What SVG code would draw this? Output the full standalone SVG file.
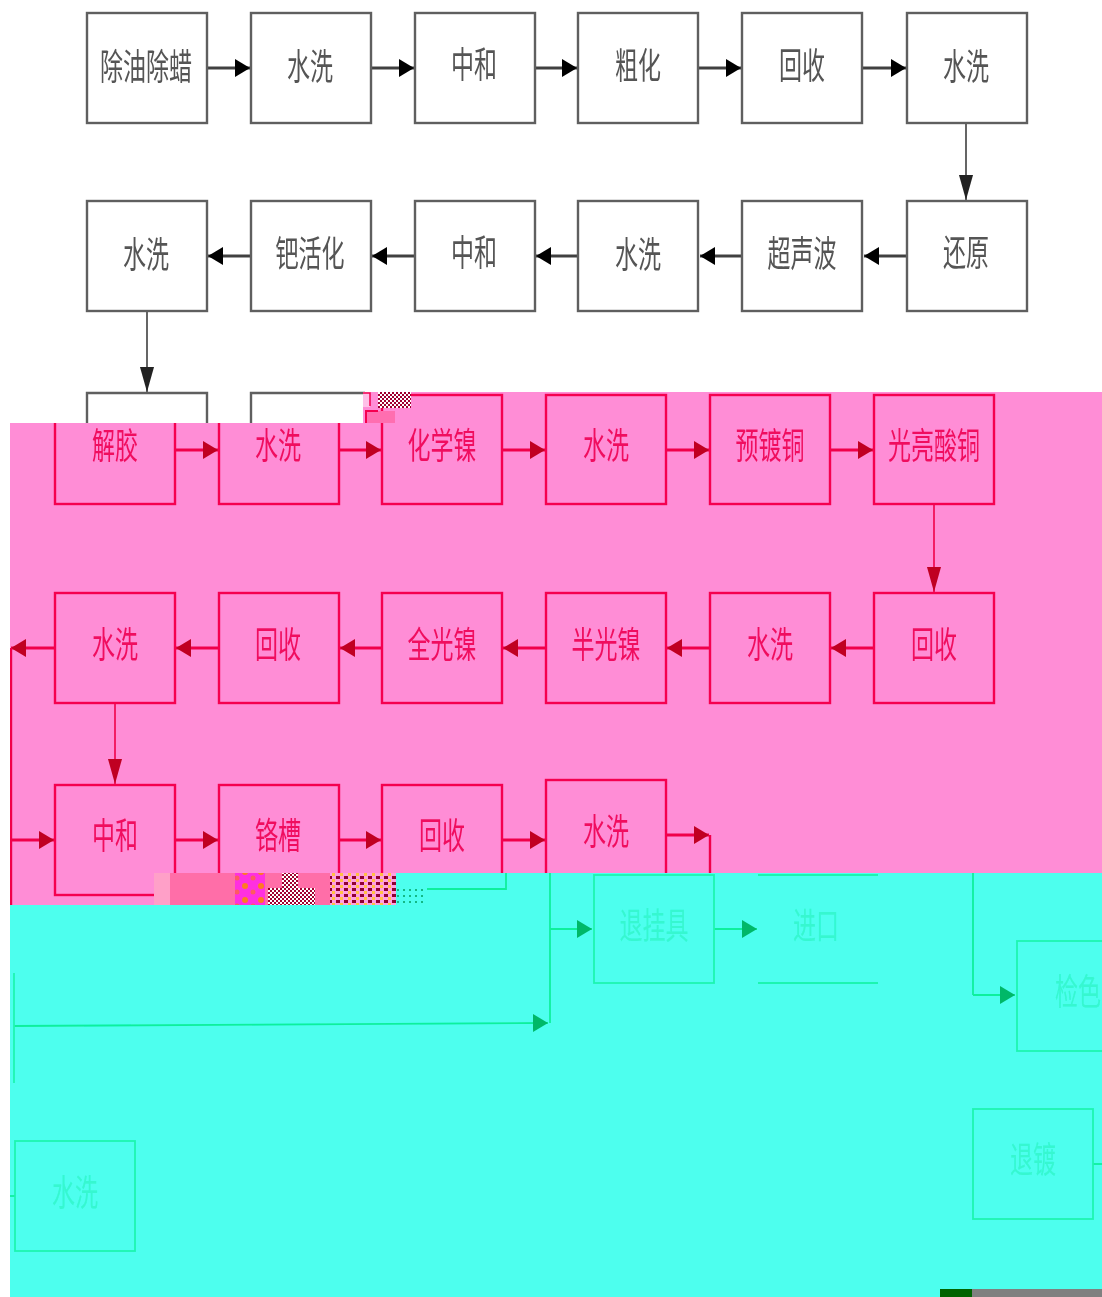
<svg xmlns="http://www.w3.org/2000/svg" width="1102" height="1297" viewBox="0 0 1102 1297">
<style>
.t{font-family:"Noto Sans CJK SC","Noto Sans CJK TC",sans-serif;font-size:23px;text-anchor:middle}
.k rect{fill:#fff;stroke:#5e5e5e;stroke-width:2.4}
.k text{fill:#555}
.k path{fill:none;stroke:#5e5e5e;stroke-width:2.4}
.kc path{fill:none;stroke:#404040;stroke-width:3;marker-end:url(#ak)}
.kc path.v{stroke-width:1.6;marker-end:url(#akv)}
.r rect{fill:none;stroke:#f5004f;stroke-width:2.4}
.r text{fill:#f0105f}
.rc path{fill:none;stroke:#f0004a;stroke-width:3;marker-end:url(#ar)}
.rc path.v{stroke-width:1.6;marker-end:url(#arv)}
.rc path.n{marker-end:none;stroke-width:2.4}
.g rect{fill:none;stroke:#1cf5b0;stroke-width:1.8}
.g text{fill:#14eda8;opacity:.42}
.g path{fill:none;stroke:#1cf5b0;stroke-width:1.8}
.gc path{fill:none;stroke:#0cf09c;stroke-width:1.8;marker-end:url(#ag)}
.gc path.n{marker-end:none}
</style>
<defs>
<marker id="ak" markerUnits="userSpaceOnUse" markerWidth="16" markerHeight="20" refX="15" refY="9" orient="auto"><path d="M0 0L15 9L0 18Z" fill="#000"/></marker>
<marker id="akv" markerUnits="userSpaceOnUse" markerWidth="26" markerHeight="16" refX="25" refY="7" orient="auto"><path d="M0 0L25 7L0 14Z" fill="#222"/></marker>
<marker id="ar" markerUnits="userSpaceOnUse" markerWidth="16" markerHeight="20" refX="15" refY="9" orient="auto"><path d="M0 0L15 9L0 18Z" fill="#c00020"/></marker>
<marker id="arv" markerUnits="userSpaceOnUse" markerWidth="26" markerHeight="16" refX="25" refY="7" orient="auto"><path d="M0 0L25 7L0 14Z" fill="#c00020"/></marker>
<marker id="ag" markerUnits="userSpaceOnUse" markerWidth="16" markerHeight="20" refX="15" refY="9" orient="auto"><path d="M0 0L15 9L0 18Z" fill="#00b868"/></marker>
<clipPath id="cp"><path d="M10 423H363V392H1102V905H10Z"/></clipPath>
<clipPath id="cg"><path d="M10 905H396V873H1102V1297H10Z"/></clipPath>
<filter id="b" x="-2%" y="-2%" width="104%" height="104%"><feGaussianBlur stdDeviation="0.5"/></filter>
<pattern id="p1" width="4" height="4" patternUnits="userSpaceOnUse"><rect width="4" height="4" fill="#fff"/><rect width="2" height="2" fill="#a00030"/><rect x="2" y="2" width="2" height="2" fill="#a00030"/></pattern>
<pattern id="p2" width="16" height="14" patternUnits="userSpaceOnUse"><rect width="16" height="14" fill="#ff30e0"/><circle cx="5" cy="4" r="3" fill="#ff7a20"/><circle cx="13" cy="10" r="2.5" fill="#ff5a60"/></pattern>
<pattern id="p3" width="8" height="6" patternUnits="userSpaceOnUse"><rect width="8" height="6" fill="#ffa0e0"/><rect width="4" height="3" fill="#900030"/><rect x="4" y="3" width="3" height="3" fill="#ffc040"/></pattern>
<pattern id="p4" width="6" height="6" patternUnits="userSpaceOnUse"><circle cx="2" cy="2" r="1" fill="#00a060"/></pattern>
</defs>
<rect width="1102" height="1297" fill="#fff"/>
<g filter="url(#b)">
<g class="kc">
<path d="M207 68H250"/><path d="M371 68H414"/><path d="M535 68H577"/><path d="M699 68H741"/><path d="M863 68H906"/>
<path class="v" d="M966 123V200"/>
<path d="M907 256H864"/><path d="M742 256H700"/><path d="M578 256H536"/><path d="M415 256H372"/><path d="M251 256H208"/>
<path class="v" d="M147 311V392"/>
</g>
<g class="k">
<g id="n1"><rect x="87" y="13" width="120" height="110"/><text class="t" transform="translate(146,80) scale(1,1.6)">除油除蜡</text></g>
<g id="n2"><rect x="251" y="13" width="120" height="110"/><text class="t" transform="translate(310,80) scale(1,1.6)">水洗</text></g>
<g id="n3"><rect x="415" y="13" width="120" height="110"/><text class="t" transform="translate(474,78) scale(1,1.6)">中和</text></g>
<g id="n4"><rect x="578" y="13" width="120" height="110"/><text class="t" transform="translate(638,79) scale(1,1.6)">粗化</text></g>
<g id="n5"><rect x="742" y="13" width="120" height="110"/><text class="t" transform="translate(802,79) scale(1,1.6)">回收</text></g>
<g id="n6"><rect x="907" y="13" width="120" height="110"/><text class="t" transform="translate(966,80) scale(1,1.6)">水洗</text></g>
<g id="n7"><rect x="907" y="201" width="120" height="110"/><text class="t" transform="translate(966,266) scale(1,1.6)">还原</text></g>
<g id="n8"><rect x="742" y="201" width="120" height="110"/><text class="t" transform="translate(802,267) scale(1,1.6)">超声波</text></g>
<g id="n9"><rect x="578" y="201" width="120" height="110"/><text class="t" transform="translate(638,268) scale(1,1.6)">水洗</text></g>
<g id="n10"><rect x="415" y="201" width="120" height="110"/><text class="t" transform="translate(474,266) scale(1,1.6)">中和</text></g>
<g id="n11"><rect x="251" y="201" width="120" height="110"/><text class="t" transform="translate(310,267) scale(1,1.6)">钯活化</text></g>
<g id="n12"><rect x="87" y="201" width="120" height="110"/><text class="t" transform="translate(146,268) scale(1,1.6)">水洗</text></g>
<g id="n13"><path d="M87 424V393H207V424"/></g>
<g id="n14"><path d="M251 424V393H365"/></g>
</g>
</g>
<path d="M10 423H363V392H1102V905H10Z" fill="#ff8dd6"/>
<g clip-path="url(#cp)"><g filter="url(#b)">
<g class="rc">
<path d="M175 450H218"/><path d="M339 450H381"/><path d="M502 450H545"/><path d="M666 450H709"/><path d="M830 450H873"/>
<path class="v" d="M934 505V592"/>
<path d="M874 648H831"/><path d="M710 648H667"/><path d="M546 648H503"/><path d="M382 648H340"/><path d="M219 648H176"/><path d="M55 648H11"/>
<path class="v" d="M115 703V784"/>
<path class="n" d="M11 648V905"/>
<path d="M11 840H54"/><path d="M175 840H218"/><path d="M339 840H381"/><path d="M502 840H545"/>
<path d="M666 835H709"/><path class="n" d="M710 835V873"/>
</g>
<g class="r">
<g id="p1n"><rect x="55" y="395" width="120" height="109"/><text class="t" transform="translate(115,459) scale(1,1.6)">解胶</text></g>
<g id="p2n"><rect x="219" y="395" width="120" height="109"/><text class="t" transform="translate(278,459) scale(1,1.6)">水洗</text></g>
<g id="p3n"><rect x="382" y="395" width="120" height="109"/><text class="t" transform="translate(442,459) scale(1,1.6)">化学镍</text></g>
<g id="p4n"><rect x="546" y="395" width="120" height="109"/><text class="t" transform="translate(606,459) scale(1,1.6)">水洗</text></g>
<g id="p5n"><rect x="710" y="395" width="120" height="109"/><text class="t" transform="translate(770,459) scale(1,1.6)">预镀铜</text></g>
<g id="p6n"><rect x="874" y="395" width="120" height="109"/><text class="t" transform="translate(934,459) scale(1,1.6)">光亮酸铜</text></g>
<g id="p7n"><rect x="874" y="593" width="120" height="110"/><text class="t" transform="translate(934,658) scale(1,1.6)">回收</text></g>
<g id="p8n"><rect x="710" y="593" width="120" height="110"/><text class="t" transform="translate(770,658) scale(1,1.6)">水洗</text></g>
<g id="p9n"><rect x="546" y="593" width="120" height="110"/><text class="t" transform="translate(606,658) scale(1,1.6)">半光镍</text></g>
<g id="p10n"><rect x="382" y="593" width="120" height="110"/><text class="t" transform="translate(442,658) scale(1,1.6)">全光镍</text></g>
<g id="p11n"><rect x="219" y="593" width="120" height="110"/><text class="t" transform="translate(278,658) scale(1,1.6)">回收</text></g>
<g id="p12n"><rect x="55" y="593" width="120" height="110"/><text class="t" transform="translate(115,658) scale(1,1.6)">水洗</text></g>
<g id="p13n"><rect x="55" y="785" width="120" height="110"/><text class="t" transform="translate(115,849) scale(1,1.6)">中和</text></g>
<g id="p14n"><rect x="219" y="785" width="120" height="110"/><text class="t" transform="translate(278,849) scale(1,1.6)">铬槽</text></g>
<g id="p15n"><rect x="382" y="785" width="120" height="110"/><text class="t" transform="translate(442,849) scale(1,1.6)">回收</text></g>
<g id="p16n"><rect x="546" y="780" width="120" height="110"/><text class="t" transform="translate(606,845) scale(1,1.6)">水洗</text></g>
</g>
</g></g>
<rect x="363" y="392" width="7" height="15" fill="#ffc0e8"/>
<path d="M363 393H370V406" fill="none" stroke="#f5004f" stroke-width="1.5"/>
<rect x="365" y="411" width="30" height="12" fill="#ff6eb0"/>
<path d="M366 423V411H378" fill="none" stroke="#f5004f" stroke-width="2"/>
<rect x="378" y="392" width="33" height="16" fill="url(#p1)"/>
<rect x="154" y="873" width="16" height="32" fill="#ffa0c8"/>
<rect x="170" y="873" width="65" height="32" fill="#ff6ea8"/>
<rect x="235" y="873" width="30" height="32" fill="url(#p2)"/>
<rect x="265" y="873" width="65" height="32" fill="#ff6ea8"/>
<rect x="268" y="888" width="47" height="17" fill="url(#p1)"/>
<rect x="282" y="873" width="16" height="15" fill="url(#p1)"/>
<rect x="330" y="873" width="66" height="32" fill="url(#p3)"/>
<path d="M10 905H396V873H1102V1297H10Z" fill="#4dffee"/>
<g clip-path="url(#cg)"><g filter="url(#b)">
<g class="gc">
<path class="n" d="M506 873V889H427"/>
<path d="M14 1026L548 1023"/>
<path class="n" d="M550 873V1023"/>
<path d="M550 929H592"/>
<path d="M714 929H757"/>
<path class="n" d="M973 873V995"/>
<path d="M973 995H1015"/>
<path class="n" d="M1093 1164H1102"/>
<path class="n" d="M10 1196H15" stroke-width="3"/>
</g>
<g class="g">
<g id="g1n"><rect x="594" y="875" width="120" height="108"/><text class="t" transform="translate(654,939) scale(1,1.6)">退挂具</text></g>
<g id="g2n"><path d="M758 875H878M758 983H878"/><text class="t" transform="translate(816,939) scale(1,1.6)">进口</text></g>
<g id="g3n"><rect x="1017" y="941" width="120" height="110"/><text class="t" transform="translate(1078,1005) scale(1,1.6)">检色</text></g>
<g id="g4n"><rect x="973" y="1109" width="120" height="110"/><text class="t" transform="translate(1033,1173) scale(1,1.6)">退镀</text></g>
<g id="g5n"><rect x="15" y="1141" width="120" height="110"/><text class="t" transform="translate(75,1206) scale(1,1.6)">水洗</text></g>
<g id="g6n"><path d="M14 973V1083"/></g>
</g>
</g></g>
<rect x="396" y="888" width="31" height="17" fill="url(#p4)"/>
<rect x="940" y="1289" width="32" height="8" fill="#006400"/>
<rect x="972" y="1289" width="130" height="8" fill="#808080"/>
</svg>
